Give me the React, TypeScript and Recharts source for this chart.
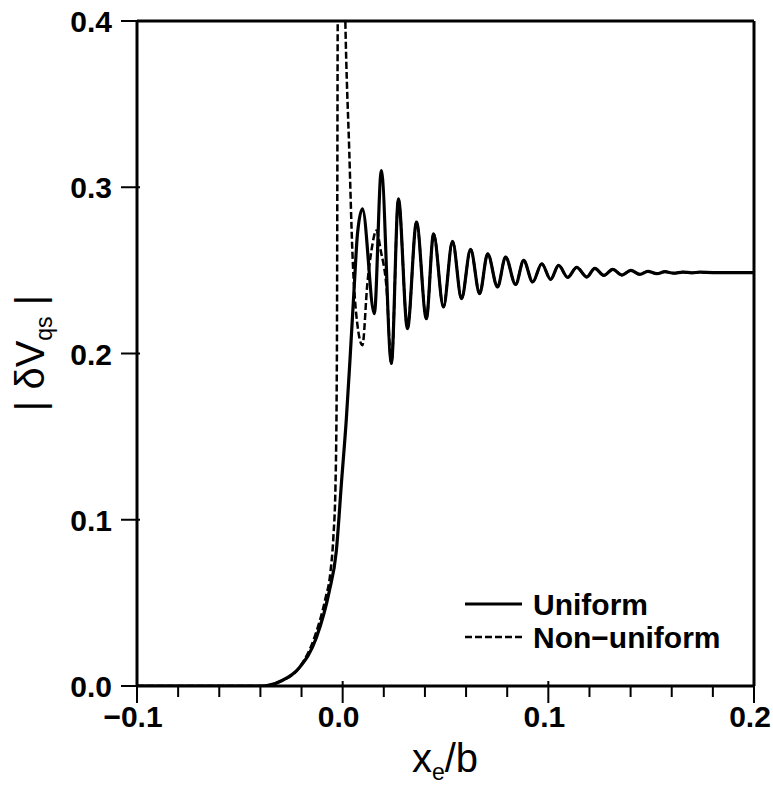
import React from 'react';
import { LineChart, Line, XAxis, YAxis, ReferenceLine } from 'recharts';

// x_e / b positions and |δV_qs| values
const uniformX = [
  -0.1, -0.039, -0.030, -0.0211, -0.0128, -0.0065, -0.0031, -0.0006, 0.0018, 0.0035,
  0.0057, 0.0072, 0.0096, 0.0154, 0.0188, 0.0237, 0.0271, 0.0315, 0.0359, 0.0407,
  0.0442, 0.0490, 0.0534, 0.0578, 0.0622, 0.0666, 0.0705, 0.0753, 0.0792, 0.0841,
  0.0880, 0.0924, 0.0968, 0.1011, 0.1050, 0.1094, 0.1138, 0.1187, 0.1226, 0.1270,
  0.1313, 0.1357, 0.1401, 0.1445, 0.1484, 0.1528, 0.1567, 0.1610, 0.1654, 0.1698,
  0.1737, 0.18, 0.19, 0.2,
];
const uniformY = [
  0, 0, 0.003, 0.011, 0.029, 0.057, 0.081, 0.122, 0.161, 0.195,
  0.242, 0.272, 0.287, 0.224, 0.310, 0.194, 0.293, 0.215, 0.279, 0.221,
  0.272, 0.228, 0.2675, 0.233, 0.2627, 0.236, 0.260, 0.240, 0.258, 0.2415,
  0.256, 0.243, 0.254, 0.2446, 0.253, 0.2458, 0.2518, 0.246, 0.2512, 0.247,
  0.2506, 0.2472, 0.250, 0.2476, 0.2494, 0.248, 0.2492, 0.2483, 0.249, 0.2485,
  0.2489, 0.2487, 0.2487, 0.2487,
];

const nonUniformX = [
  -0.1, -0.039, -0.030, -0.0211, -0.0135, -0.0085, -0.006, -0.0045, -0.0035, -0.0028,
  -0.0026, -0.0024, -0.0005, 0.0013, 0.0032, 0.0047, 0.0071, 0.0096, 0.0120, 0.0140,
  0.0164, 0.0185, 0.0213, 0.0237, 0.0271, 0.0315, 0.0359, 0.0407, 0.0442, 0.0490,
  0.0534, 0.0578, 0.0622, 0.0666, 0.0705, 0.0753, 0.0792, 0.0841, 0.0880, 0.0924,
  0.0968, 0.1011, 0.1050, 0.1094, 0.1138, 0.1187, 0.1226, 0.1270, 0.1313, 0.1357,
  0.1401, 0.1445, 0.1484, 0.1528, 0.1567, 0.1610, 0.1654, 0.1698, 0.1737, 0.18,
  0.19, 0.2,
];
const nonUniformY = [
  0, 0, 0.003, 0.011, 0.030, 0.052, 0.068, 0.09, 0.12, 0.2,
  0.3, 0.4, 0.55, 0.4, 0.322, 0.262, 0.218, 0.205, 0.242, 0.262,
  0.274, 0.262, 0.24, 0.194, 0.293, 0.215, 0.279, 0.221, 0.272, 0.228,
  0.2675, 0.233, 0.2627, 0.236, 0.260, 0.240, 0.258, 0.2415, 0.256, 0.243,
  0.254, 0.2446, 0.253, 0.2458, 0.2518, 0.246, 0.2512, 0.247, 0.2506, 0.2472,
  0.250, 0.2476, 0.2494, 0.248, 0.2492, 0.2483, 0.249, 0.2485, 0.2489, 0.2487,
  0.2487, 0.2487,
];

const xTicks = [-0.1, -0.08, -0.06, -0.04, -0.02, 0, 0.02, 0.04, 0.06, 0.08, 0.1, 0.12, 0.14, 0.16, 0.18, 0.2];
const yTicks = [0, 0.1, 0.2, 0.3, 0.4];
const seriesNames = ['Uniform', 'Non\u2212uniform'];

const uniformData = uniformX.map((x, i) => ({ x, y: uniformY[i] }));
const nonUniformData = nonUniformX.map((x, i) => ({ x, y: nonUniformY[i] }));

const FONT = '"Liberation Sans", Arial, Helvetica, sans-serif';

const fmt = (v: number) => {
  const s = Math.abs(v).toFixed(1);
  return v < -1e-9 ? '\u2212' + s : s;
};

const XTick = (props: any) => {
  const { x, y, payload } = props;
  const v = payload.value as number;
  const major = Math.abs(Math.round(v * 10) - v * 10) < 1e-6;
  return (
    <g>
      <line x1={x} x2={x} y1={major ? y - 5 : y} y2={y + (major ? 17 : 11)} stroke="#000" strokeWidth={2} />
      {major && (
        <text x={x - 4} y={y + 41} textAnchor="middle" fontFamily={FONT} fontSize={30} fontWeight="bold" fill="#000">
          {fmt(v)}
        </text>
      )}
    </g>
  );
};

const YTick = (props: any) => {
  const { x, y, payload } = props;
  const v = payload.value as number;
  return (
    <g>
      <line x1={x - 16} x2={x + 3} y1={y} y2={y} stroke="#000" strokeWidth={2} />
      <text x={x - 25} y={y + 11} textAnchor="end" fontFamily={FONT} fontSize={30} fontWeight="bold" fill="#000">
        {fmt(v)}
      </text>
    </g>
  );
};

export default function App() {
  return (
    <div style={{ position: 'absolute', left: 0, top: 0, width: 773, height: 797, background: '#fff' }}>
      <LineChart width={773} height={797} margin={{ top: 21, right: 19, left: 0, bottom: 0 }}>
        <XAxis
          type="number"
          dataKey="x"
          domain={[-0.1, 0.2]}
          ticks={xTicks}
          interval={0}
          allowDataOverflow
          height={111}
          tickSize={0}
          tickMargin={0}
          tickLine={false}
          axisLine={{ stroke: '#000', strokeWidth: 3 }}
          tick={<XTick />}
        />
        <YAxis
          type="number"
          dataKey="y"
          domain={[0, 0.4]}
          ticks={yTicks}
          interval={0}
          allowDataOverflow
          width={137}
          tickSize={0}
          tickMargin={0}
          tickLine={false}
          axisLine={{ stroke: '#000', strokeWidth: 3 }}
          tick={<YTick />}
        />
        <ReferenceLine y={0.4} stroke="#000" strokeWidth={3} />
        <ReferenceLine x={0.2} stroke="#000" strokeWidth={3} />
        <Line
          data={nonUniformData}
          dataKey="y"
          type="monotone"
          stroke="#000"
          strokeWidth={2.5}
          strokeDasharray="7 3"
          dot={false}
          isAnimationActive={false}
          name={seriesNames[1]}
        />
        <Line
          data={uniformData}
          dataKey="y"
          type="monotone"
          stroke="#000"
          strokeWidth={3.2}
          dot={false}
          isAnimationActive={false}
          name={seriesNames[0]}
        />
        <g>
          <line x1={465} x2={522} y1={604} y2={604} stroke="#000" strokeWidth={3} />
          <text x={533} y={615} fontFamily={FONT} fontSize={30} fontWeight="bold" fill="#000">{seriesNames[0]}</text>
          <line x1={465} x2={522} y1={637} y2={637} stroke="#000" strokeWidth={2.5} strokeDasharray="7 3" />
          <text x={533} y={648} fontFamily={FONT} fontSize={30} fontWeight="bold" fill="#000">{seriesNames[1]}</text>
        </g>
        <text x={445} y={772} textAnchor="middle" fontFamily={FONT} fontSize={40} fill="#000">
          x<tspan fontSize={23} dy={8}>e</tspan><tspan dy={-8}>/b</tspan>
        </text>
        <text
          x={0}
          y={0}
          transform="translate(44 353) rotate(-90)"
          textAnchor="middle"
          fontFamily={FONT}
          fontSize={40}
          fill="#000"
        >
          {'|   \u03B4V'}<tspan fontSize={23} dy={8}>qs</tspan><tspan dy={-8}>{'   |'}</tspan>
        </text>
      </LineChart>
    </div>
  );
}
